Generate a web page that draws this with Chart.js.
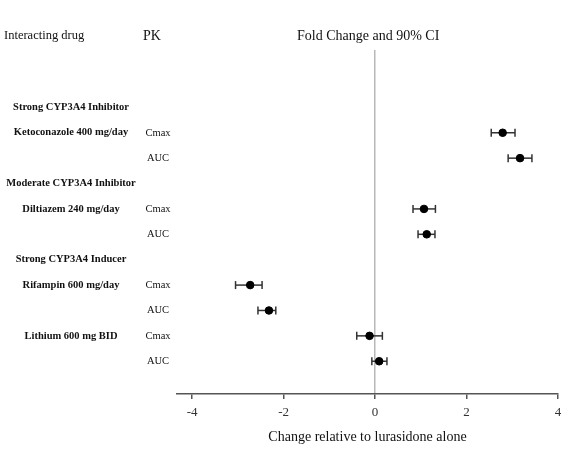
<!DOCTYPE html>
<html>
<head>
<meta charset="utf-8">
<script src="https://cdn.jsdelivr.net/npm/chart.js@4"></script>
<style>
  html,body{margin:0;padding:0;background:#fff;}
  #wrap{width:577px;height:452px;position:relative;}
</style>
</head>
<body>
<div id="wrap"><canvas id="forest"></canvas></div>
<script>
// rows top to bottom (y index 0..10)
const drugLabels=['Strong CYP3A4 Inhibitor','Ketoconazole 400 mg/day','','Moderate CYP3A4 Inhibitor','Diltiazem 240 mg/day','','Strong CYP3A4 Inducer','Rifampin 600 mg/day','','Lithium 600 mg BID',''];
const pkLabels=['','Cmax','AUC','','Cmax','AUC','','Cmax','AUC','Cmax','AUC'];
const estimate=[null,2.79,3.17,null,1.07,1.13,null,-2.73,-2.32,-0.12,0.09];
const ciLow=[null,2.54,2.91,null,0.83,0.94,null,-3.05,-2.56,-0.40,-0.07];
const ciHigh=[null,3.06,3.43,null,1.32,1.31,null,-2.47,-2.17,0.16,0.26];
const xTicks=[-4,-2,0,2,4];
const headers=['Interacting drug','PK','Fold Change and 90% CI'];

const serif='"Liberation Serif","Times New Roman",serif';

let points=[],whiskers=[];
estimate.forEach((v,i)=>{
  if(v===null) return;
  points.push({x:v,y:i});
  whiskers.push({
    type:'line',
    data:[{x:ciLow[i],y:i},{x:ciHigh[i],y:i}],
    borderColor:'#333',borderWidth:1.5,
    pointStyle:'line',rotation:90,pointRadius:4,pointBorderColor:'#333',pointBorderWidth:1.5,
    pointHoverRadius:4
  });
});

const labelPlugin={
  id:'labels',
  afterDraw(chart){
    const c=chart.ctx,y=chart.scales.y,x=chart.scales.x;
    c.save();
    c.fillStyle='#111';
    c.textBaseline='middle';
    c.font='12.5px '+serif;
    c.textAlign='left';
    c.fillText(headers[0],4,36);
    c.font='14px '+serif;
    c.fillText(headers[1],143,36);
    c.textAlign='center';
    c.fillText(headers[2],x.getPixelForValue(-0.15),36);
    drugLabels.forEach((t,i)=>{
      if(!t) return;
      c.font='bold 10.5px '+serif;
      c.textAlign='center';
      c.fillText(t,71,y.getPixelForValue(i));
    });
    pkLabels.forEach((t,i)=>{
      if(!t) return;
      c.font='10.5px '+serif;
      c.textAlign='center';
      c.fillText(t,158,y.getPixelForValue(i));
    });
    c.restore();
  }
};

new Chart(document.getElementById('forest').getContext('2d'),{
  type:'scatter',
  data:{datasets:[
    {data:points,backgroundColor:'#000',borderColor:'#000',pointRadius:3.8,pointHoverRadius:3.8},
    ...whiskers
  ]},
  options:{
    responsive:true,maintainAspectRatio:false,animation:false,
    layout:{padding:{left:177,right:19,top:50,bottom:2.6}},
    plugins:{legend:{display:false},tooltip:{enabled:false}},
    scales:{
      x:{
        type:'linear',min:-4.33,max:4,
        afterBuildTicks:s=>{s.ticks=xTicks.map(v=>({value:v}));},
        grid:{
          color:ctx=>ctx.tick&&ctx.tick.value===0?'#b8b8b8':'transparent',
          lineWidth:1.5,tickColor:'#555',tickLength:5
        },
        border:{display:true,color:'#555',width:1.5},
        ticks:{color:'#333',font:{family:serif,size:13},padding:6},
        title:{display:true,text:'Change relative to lurasidone alone',color:'#111',font:{family:serif,size:14},padding:{top:2,bottom:4}}
      },
      y:{type:'linear',reverse:true,min:-2.26,max:11.29,display:false}
    }
  },
  plugins:[labelPlugin]
});
</script>
</body>
</html>
